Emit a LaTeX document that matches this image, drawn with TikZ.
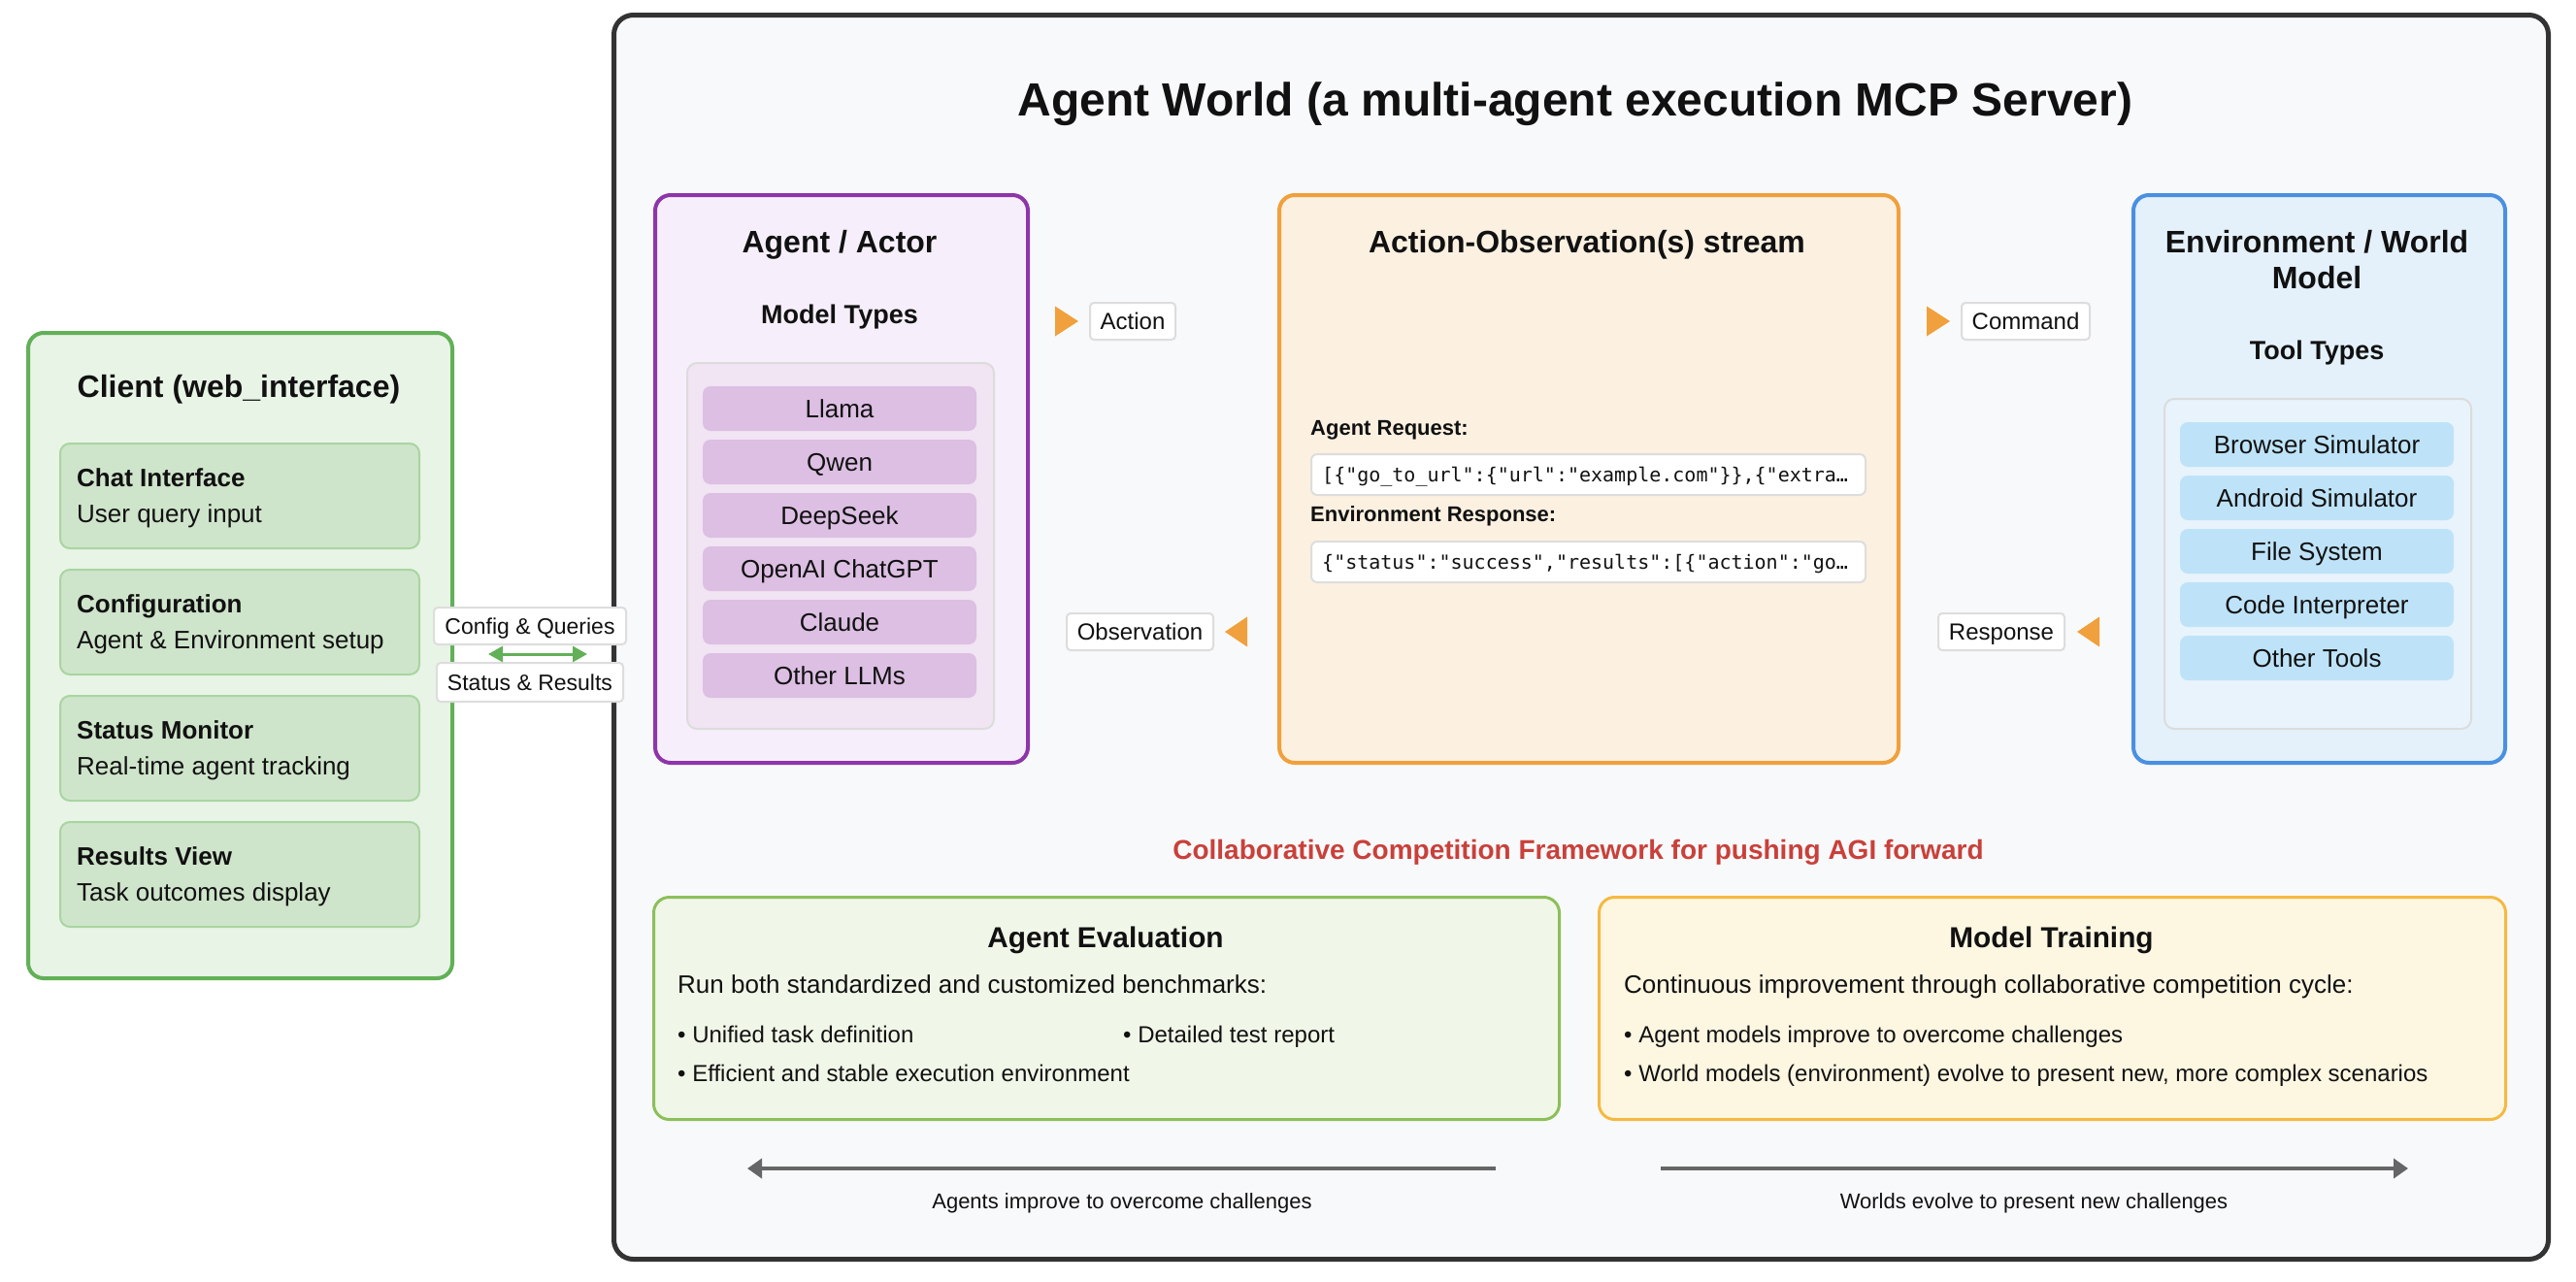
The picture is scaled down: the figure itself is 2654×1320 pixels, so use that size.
\documentclass[tikz,border=0pt]{standalone}
\usepackage{fontspec}
\setmainfont{Liberation Sans}
\setmonofont{DejaVu Sans Mono}
\usetikzlibrary{arrows.meta,calc}
\definecolor{outerb}{HTML}{333333}
\definecolor{outerf}{HTML}{F8F9FA}
\definecolor{clientb}{HTML}{62B057}
\definecolor{clientf}{HTML}{E8F4E6}
\definecolor{csubb}{HTML}{A8D5A0}
\definecolor{csubf}{HTML}{CFE5CB}
\definecolor{purpb}{HTML}{8E35AA}
\definecolor{purpf}{HTML}{F6EFFB}
\definecolor{purpc}{HTML}{F1E4F3}
\definecolor{purpi}{HTML}{DCBFE3}
\definecolor{orab}{HTML}{F0A03C}
\definecolor{oraf}{HTML}{FCF1E1}
\definecolor{blueb}{HTML}{4A90E2}
\definecolor{bluef}{HTML}{E4F1FB}
\definecolor{bluec}{HTML}{E8F3FC}
\definecolor{bluei}{HTML}{BEE3F8}
\definecolor{contb}{HTML}{DCDCDC}
\definecolor{tagb}{HTML}{DDDDDD}
\definecolor{redt}{HTML}{C9403A}
\definecolor{evalb}{HTML}{8CBF5A}
\definecolor{evalf}{HTML}{F1F7E8}
\definecolor{trainb}{HTML}{F5B942}
\definecolor{trainf}{HTML}{FDF6E1}
\definecolor{arrowg}{HTML}{666666}
\definecolor{inkc}{HTML}{111111}
\newcommand{\fsz}[1]{\fontsize{#1}{#1}\selectfont}
\tikzset{
  panel/.style={draw, line width=4pt, rounded corners=16pt, anchor=north west, inner sep=0pt},
  subbox/.style={draw=csubb, fill=csubf, line width=2pt, rounded corners=10pt, anchor=north west, minimum width=370pt, minimum height=108pt, inner sep=0pt},
  container/.style={draw=contb, line width=2pt, rounded corners=10pt, anchor=north west, inner sep=0pt},
  item/.style={rounded corners=8pt, minimum width=282pt, minimum height=46pt, inner sep=0pt, font=\fsz{26}, text height=18.6pt, text depth=0pt, text=inkc},
  tag/.style={draw=tagb, fill=white, line width=2pt, rounded corners=4pt, minimum height=38pt, inner sep=0pt, font=\fsz{24}, text height=17.2pt, text depth=0pt, text=inkc},
  codebox/.style={draw=tagb, fill=white, line width=2pt, rounded corners=6pt, anchor=north west, minimum width=571pt, minimum height=42pt, inner sep=0pt},
  txt/.style={inner sep=0pt, anchor=base west, text=inkc},
  ctxt/.style={inner sep=0pt, anchor=base, text=inkc},
  tri/.style={fill=orab},
  garrow/.style={draw=arrowg, line width=4pt, -{Triangle[length=15pt,width=20pt]}},
}
\begin{document}
\begin{tikzpicture}[x=1pt,y=-1pt]
\fill[white] (0,0) rectangle (2654,1320);
\path[use as bounding box] (0,0) rectangle (2654,1320);

% outer server panel
\node[panel, draw=outerb, fill=outerf, line width=5pt, rounded corners=20pt, minimum width=1993pt, minimum height=1282pt] (outer) at (630,13) {};
\node[ctxt, font=\fsz{48}\bfseries] (title) at (1623,119) {Agent World (a multi-agent execution MCP Server)};

% client
\node[panel, draw=clientb, fill=clientf, minimum width=437pt, minimum height=665pt] (client) at (27,341) {};
\node[ctxt, font=\fsz{32}\bfseries] (clienttitle) at (246,409) {Client (web\_interface)};
\foreach \n/\y/\a/\b in {chat/456/Chat Interface/User query input,
                          conf/586/Configuration/Agent \& Environment setup,
                          stat/716/Status Monitor/Real-time agent tracking,
                          res/846/Results View/Task outcomes display}{
  \node[subbox] (\n) at (61,\y) {};
  \node[txt, font=\fsz{26}\bfseries] (\n t) at ($(\n.north west)+(18,45)$) {\a};
  \node[txt, font=\fsz{26}] (\n d) at ($(\n.north west)+(18,82)$) {\b};
}

% agent panel
\node[panel, draw=purpb, fill=purpf, minimum width=384pt, minimum height=585pt] (agent) at (673,199) {};
\node[ctxt, font=\fsz{32}\bfseries] (agenttitle) at (865,260) {Agent / Actor};
\node[ctxt, font=\fsz{27}\bfseries] (modeltypes) at (865,333) {Model Types};
\node[container, fill=purpc, minimum width=316pt, minimum height=377pt] (mcont) at (707,373) {};
\foreach \n/\t [count=\k from 0] in {llama/Llama, qwen/Qwen, deepseek/DeepSeek, openai/OpenAI ChatGPT, claude/Claude, otherllm/Other LLMs}{
  \node[item, fill=purpi] (\n) at (865,421+55*\k) {\t};
}

% stream panel
\node[panel, draw=orab, fill=oraf, minimum width=638pt, minimum height=585pt] (stream) at (1316,199) {};
\node[ctxt, font=\fsz{32}\bfseries] (streamtitle) at (1635,260) {Action-Observation(s) stream};
\node[txt, font=\fsz{22}\bfseries] (reqlbl) at (1350,448) {Agent Request:};
\node[codebox] (reqbox) at (1350,467) {};
\node[txt, font=\fsz{20}\ttfamily] (reqtxt) at ($(reqbox.west)+(12,7.3)$) {[\{"go\_to\_url":\{"url":"example.com"\}\},\{"extra…};
\node[txt, font=\fsz{22}\bfseries] (reslbl) at (1350,537) {Environment Response:};
\node[codebox] (resbox) at (1350,557) {};
\node[txt, font=\fsz{20}\ttfamily] (restxt) at ($(resbox.west)+(12,7.3)$) {\{"status":"success","results":[\{"action":"go…};

% environment panel
\node[panel, draw=blueb, fill=bluef, minimum width=383pt, minimum height=585pt] (env) at (2196,199) {};
\node[ctxt, font=\fsz{32}\bfseries] (envtitle1) at (2387,260) {Environment / World};
\node[ctxt, font=\fsz{32}\bfseries] (envtitle2) at (2387,297.5) {Model};
\node[ctxt, font=\fsz{27}\bfseries] (tooltypes) at (2387,370) {Tool Types};
\node[container, fill=bluec, minimum width=316pt, minimum height=340pt] (tcont) at (2229,410) {};
\foreach \n/\t [count=\k from 0] in {browser/Browser Simulator, android/Android Simulator, files/File System, code/Code Interpreter, othertool/Other Tools}{
  \node[item, fill=bluei] (\n) at (2387,458+55*\k) {\t};
}

% stream tags and arrowheads
\node[tag, minimum width=88pt] (action) at (1167,331) {Action};
\node[tag, minimum width=151pt] (observation) at (1174.5,651) {Observation};
\node[tag, minimum width=132pt] (command) at (2087,331) {Command};
\node[tag, minimum width=130pt] (response) at (2062,651) {Response};
\fill[tri] ($(action.west)+(-35,-15.5)$) -- ++(24,15.5) -- ++(-24,15.5) -- cycle;
\fill[tri] ($(observation.east)+(34,-15.5)$) -- ++(-23,15.5) -- ++(23,15.5) -- cycle;
\fill[tri] ($(command.west)+(-35,-15.5)$) -- ++(24,15.5) -- ++(-24,15.5) -- cycle;
\fill[tri] ($(response.east)+(35,-15.5)$) -- ++(-23,15.5) -- ++(23,15.5) -- cycle;

% client <-> server link
\coordinate (linkl) at (503,674);
\coordinate (linkr) at (605,674);
\node[tag, minimum width=198pt, font=\fsz{23}, text height=16.5pt] (cq) at (546,645) {Config \& Queries};
\node[tag, minimum width=192pt, minimum height=40pt, font=\fsz{23}, text height=16.5pt] (sr) at (546,703) {Status \& Results};
\draw[draw=clientb, line width=3pt, {Triangle[length=15pt,width=16pt]}-{Triangle[length=15pt,width=16pt]}] (linkl) -- (linkr);

% framework
\node[ctxt, font=\fsz{28}\bfseries, text=redt] (frame) at (1626,885) {Collaborative Competition Framework for pushing AGI forward};
\node[panel, draw=evalb, fill=evalf, line width=3pt, minimum width=933pt, minimum height=229pt] (eval) at (672,923) {};
\node[ctxt, font=\fsz{29.8}\bfseries] (evaltitle) at (1139,976) {Agent Evaluation};
\node[txt, font=\fsz{26}] (evalintro) at (698,1023) {Run both standardized and customized benchmarks:};
\node[txt, font=\fsz{24}] (evalb1) at (698,1074) {• Unified task definition};
\node[txt, font=\fsz{24}] (evalb2) at (1157,1074) {• Detailed test report};
\node[txt, font=\fsz{24}] (evalb3) at (698,1114) {• Efficient and stable execution environment};

\node[panel, draw=trainb, fill=trainf, line width=3pt, minimum width=934pt, minimum height=229pt] (train) at (1646,923) {};
\node[ctxt, font=\fsz{29.8}\bfseries] (traintitle) at (2113.5,976) {Model Training};
\node[txt, font=\fsz{26}] (trainintro) at (1673,1023) {Continuous improvement through collaborative competition cycle:};
\node[txt, font=\fsz{24}] (trainb1) at (1673,1074) {• Agent models improve to overcome challenges};
\node[txt, font=\fsz{24}] (trainb2) at (1673,1114) {• World models (environment) evolve to present new, more complex scenarios};

% bottom arrows
\coordinate (la1) at (1541,1204);
\coordinate (la2) at (770,1204);
\coordinate (ra1) at (1711,1204);
\coordinate (ra2) at (2481,1204);
\draw[garrow] (la1) -- (la2);
\draw[garrow] (ra1) -- (ra2);
\node[ctxt, font=\fsz{22}] (agentsimp) at (1156,1245) {Agents improve to overcome challenges};
\node[ctxt, font=\fsz{22}] (worldsev) at (2095.5,1245) {Worlds evolve to present new challenges};
\end{tikzpicture}
\end{document}
